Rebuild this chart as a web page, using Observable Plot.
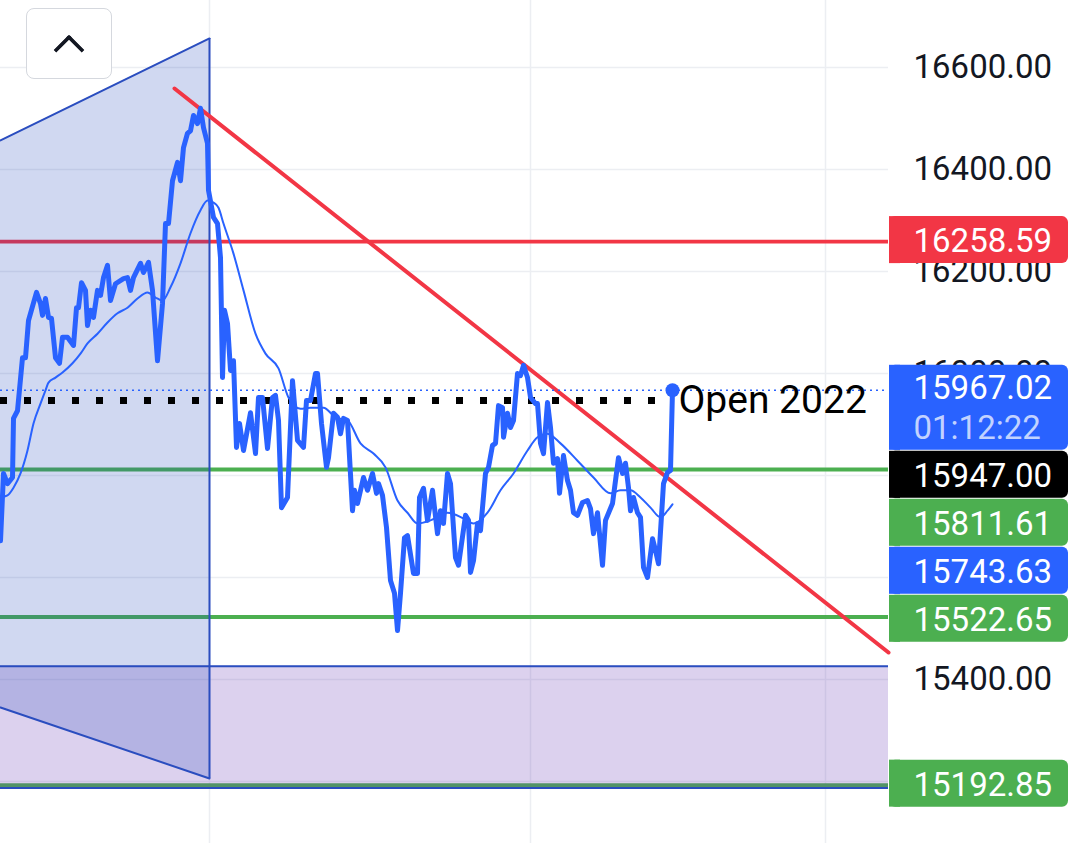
<!DOCTYPE html>
<html>
<head>
<meta charset="utf-8">
<script src="https://cdn.jsdelivr.net/npm/d3@7"></script>
<script src="https://cdn.jsdelivr.net/npm/@observablehq/plot@0.6"></script>
<style>
  html, body { margin: 0; padding: 0; background: #fff; overflow: hidden; }
  #wrap { position: relative; width: 1080px; height: 843px; }
  #wrap svg { display: block; }
  .btn { position: absolute; left: 26px; top: 8px; width: 86px; height: 71px; box-sizing: border-box;
         border: 1.5px solid #d5d8de; border-radius: 8px; background: #fff; }
  .chev { position: absolute; left: 58px; top: 39px; width: 22px; height: 22px; box-sizing: border-box;
          border-left: 4px solid #131722; border-top: 4px solid #131722; border-top-left-radius: 2px;
          transform: rotate(45deg); }
</style>
</head>
<body>
<div id="wrap"></div>
<script>
// ---------- data ----------
const gridTicks = [16600, 16400, 16200, 16000, 15800, 15600, 15400, 15200];
const axisTicks = [16600, 16400, 16200, 16000, 15400];   // the price-scale labels not hidden by tags
const timeGrid = [209, 530, 825];          // vertical grid (time) positions, in bar-time units
const xDomain = [0, 888];
const yDomain = [15078.43, 16731.37];

// close price series [time, price]
const priceSeries = [
  [0,15672],[3,15804],[7,15784],[12,15796],[13,15912],[17,15927],[22,16031],[25,16031],[28,16104],[36,16159],
  [40,16137],[42,16114],[45,16147],[48,16110],[51,16108],[55,16031],[59,16020],[62,16071],[67,16071],[73,16055],
  [76,16129],[78,16129],[81,16178],[85,16163],[87,16094],[90,16124],[93,16110],[97,16163],[100,16153],[103,16188],
  [107,16212],[110,16143],[115,16176],[123,16186],[127,16188],[130,16163],[133,16188],[140,16216],[143,16198],[148,16218],
  [152,16163],[157,16025],[162,16137],[165,16294],[168,16294],[172,16378],[177,16414],[180,16378],[183,16443],[187,16471],
  [190,16476],[193,16506],[197,16490],[200,16520],[203,16482],[207,16451],[208,16359],[213,16306],[217,16294],[220,16227],
  [222,15992],[224,16124],[227,16098],[230,16006],[233,16025],[236,15855],[239,15902],[243,15849],[250,15923],[255,15843],
  [258,15953],[262,15953],[267,15853],[272,15953],[275,15957],[278,15908],[281,15737],[287,15757],[292,15986],[297,15869],
  [303,15855],[306,15947],[310,15947],[315,16000],[317,16000],[321,15902],[326,15816],[328,15835],[333,15922],[337,15914],
  [340,15882],[343,15912],[347,15908],[352,15731],[354,15771],[357,15745],[363,15796],[367,15771],[372,15804],[376,15765],
  [378,15784],[382,15761],[386,15698],[390,15594],[394,15569],[397,15496],[400,15569],[404,15678],[407,15682],[413,15608],
  [417,15608],[419,15757],[423,15775],[427,15712],[432,15771],[437,15686],[440,15731],[443,15706],[447,15804],[450,15784],
  [455,15639],[458,15624],[465,15722],[468,15712],[470,15610],[473,15633],[477,15706],[480,15692],[485,15804],[488,15816],
  [492,15859],[495,15863],[498,15937],[502,15933],[503,15875],[507,15922],[510,15894],[513,15908],[517,16000],[520,15996],
  [523,16016],[527,15992],[530,15953],[535,15941],[537,15941],[540,15863],[543,15843],[547,15943],[550,15894],[553,15824],
  [557,15833],[559,15765],[563,15839],[567,15790],[570,15771],[573,15727],[577,15722],[582,15747],[587,15751],[590,15735],
  [593,15686],[597,15727],[602,15624],[605,15712],[612,15745],[615,15790],[618,15835],[622,15804],[625,15824],[628,15776],
  [630,15731],[633,15757],[637,15727],[640,15718],[643,15620],[647,15600],[652,15676],[655,15653],[658,15627],[663,15784],
  [667,15806],[670,15810],[672,15967.02]
];

// moving average series [time, value]
const maSeries = [
  [0,15757],[7,15761],[13,15776],[20,15804],[27,15849],[33,15902],[40,15941],[45,15967],[48,15982],[55,15992],
  [62,16002],[72,16020],[80,16039],[87,16059],[97,16078],[107,16100],[117,16118],[127,16129],[137,16147],[147,16159],
  [155,16149],[162,16143],[170,16169],[180,16216],[190,16275],[200,16320],[207,16339],[213,16335],[218,16325],[223,16294],
  [233,16235],[243,16163],[255,16078],[265,16039],[278,16010],[288,15953],[300,15931],[310,15933],[323,15933],[335,15914],
  [347,15908],[360,15863],[373,15843],[385,15816],[397,15751],[407,15727],[417,15706],[430,15712],[447,15727],[463,15716],
  [473,15706],[487,15727],[500,15771],[513,15804],[527,15849],[537,15875],[547,15882],[560,15863],[577,15829],[593,15796],
  [610,15765],[620,15771],[630,15771],[640,15757],[650,15737],[660,15718],[667,15731],[672,15743.63]
];

const lastT = 672;
const lastPrice = 15967.02;
const maLast = 15743.63;
const countdown = "01:12:22";
const resistance = 16258.59;
const supports = [15811.61, 15522.65, 15192.85];
const open2022 = 15947.00;
const openLabel = "Open 2022";

// drawings
const wedgeT = [0, 209];
const wedgeTop = [16457, 16657];
const wedgeBottom = [15345, 15206];
const zone = [15187.3, 15425.9];
const trendT = [174, 888];
const trendV = [16558.8, 15453];

// price-scale tags
const tagValues = [resistance, lastPrice, open2022, supports[0], maLast, supports[1], supports[2]];
const tagKinds  = ["resistance", "last", "open", "support", "ma", "support", "support"];

// ---------- styles ----------
const C = {
  blue: "#2962ff", red: "#f23645", green: "#4caf50", black: "#000000",
  grid: "#eceef2", draw: "#2a4dbf", text: "#131722"
};
const tagFill = {resistance: C.red, last: C.blue, open: C.black, support: C.green, ma: C.blue};

const W = 1080, H = 843, MR = 192;
const yS = d3.scaleLinear().domain(yDomain).range([H, 0]);

// stack tags like a price scale does
const tags = tagValues.map((v, i) => ({v, kind: tagKinds[i]})).sort((a, b) => b.v - a.v);
let prevBottom = -Infinity;
for (const t of tags) {
  const h = t.kind === "last" ? 85 : 47;
  let top = yS(t.v) - 25;
  if (top < prevBottom + 1) top = prevBottom + 1;
  const bottom = top + h;
  prevBottom = bottom;
  t.yTop = yS.invert(top);
  t.yBottom = yS.invert(bottom);
  t.yText = yS.invert(t.kind === "last" ? top + 23.5 : top + 25);
  t.ySub = yS.invert(top + 63);
  t.label = d3.format(".2f")(t.v);
  t.x1 = xDomain[1] + 1;
  t.x2 = xDomain[1] + 180;
  t.x2b = xDomain[1] + 12;
}

const wedge = wedgeT.map((t, i) => ({t, top: wedgeTop[i], bottom: wedgeBottom[i]}));
const trend = trendT.map((t, i) => ({t, v: trendV[i]}));
const zoneRow = [{x1: xDomain[0], x2: xDomain[1], y1: zone[0], y2: zone[1]}];
const wedgeEdge = [{t: wedgeT[1], y1: wedgeBottom[1], y2: wedgeTop[1]}];
const openRow = [{x1: 0, x2: lastT, y: open2022}];

const plot = Plot.plot({
  width: W, height: H,
  marginLeft: 0, marginRight: MR, marginTop: 0, marginBottom: 0,
  x: {domain: xDomain, axis: null},
  y: {domain: yDomain, axis: null},
  style: {fontFamily: "Roboto, sans-serif", background: "#fff"},
  marks: [
    Plot.gridY(gridTicks, {stroke: C.grid, strokeOpacity: 1, strokeWidth: 1.5}),
    Plot.ruleX(timeGrid, {stroke: C.grid, strokeWidth: 1.5}),
    Plot.ruleY([resistance], {stroke: C.red, strokeWidth: 3.8}),
    Plot.ruleY(supports, {stroke: C.green, strokeWidth: 4}),
    Plot.rect(zoneRow, {x1: "x1", x2: "x2", y1: "y1", y2: "y2", fill: "rgb(103,58,183)", fillOpacity: 0.23}),
    Plot.ruleY(zone, {stroke: C.draw, strokeWidth: 2}),
    Plot.areaY(wedge, {x: "t", y1: "bottom", y2: "top", fill: "rgb(33,70,190)", fillOpacity: 0.21}),
    Plot.line(wedge, {x: "t", y: "top", stroke: C.draw, strokeWidth: 2}),
    Plot.line(wedge, {x: "t", y: "bottom", stroke: C.draw, strokeWidth: 2}),
    Plot.ruleX(wedgeEdge, {x: "t", y1: "y1", y2: "y2", stroke: C.draw, strokeWidth: 2}),
    Plot.line(trend, {x: "t", y: "v", stroke: C.red, strokeWidth: 4}),
    Plot.ruleY(openRow, {y: "y", x1: "x1", x2: "x2", stroke: C.black, strokeWidth: 7, strokeDasharray: "7,17"}),
    Plot.ruleY([lastPrice], {stroke: C.blue, strokeWidth: 1.5, strokeDasharray: "2,4"}),
    Plot.line(maSeries, {x: d => d[0], y: d => d[1], stroke: C.blue, strokeWidth: 2, curve: "monotone-x"}),
    Plot.line(priceSeries, {x: d => d[0], y: d => d[1], stroke: C.blue, strokeWidth: 5,
      strokeLinejoin: "round", strokeLinecap: "round"}),
    Plot.dot([[lastT, lastPrice]], {x: d => d[0], y: d => d[1], r: 7, fill: C.blue}),
    Plot.text(openRow, {x: "x2", y: "y", text: () => openLabel, dx: 6, textAnchor: "start",
      lineAnchor: "middle", fontSize: 39, fill: C.black}),
    Plot.axisY(axisTicks, {anchor: "right", tickSize: 0, tickPadding: 25, tickFormat: d3.format(".2f"),
      fontSize: 33, fill: C.text, label: null}),
    Plot.rect(tags, {x1: "x1", x2: "x2", y1: "yTop", y2: "yBottom", rx: 6, fill: d => tagFill[d.kind]}),
    Plot.rect(tags, {x1: "x1", x2: "x2b", y1: "yTop", y2: "yBottom", fill: d => tagFill[d.kind]}),
    Plot.text(tags, {x: "x1", y: "yText", text: "label", dx: 24, textAnchor: "start",
      lineAnchor: "middle", fontSize: 33, fill: "#ffffff"}),
    Plot.text(tags.filter(d => d.kind === "last"), {x: "x1", y: "ySub", text: () => countdown,
      dx: 24, textAnchor: "start", lineAnchor: "middle", fontSize: 33, fill: "rgba(255,255,255,0.72)"})
  ]
});

const wrap = document.getElementById("wrap");
wrap.appendChild(plot);
const btn = document.createElement("div");
btn.className = "btn";
wrap.appendChild(btn);
const chev = document.createElement("div");
chev.className = "chev";
wrap.appendChild(chev);
</script>
</body>
</html>
